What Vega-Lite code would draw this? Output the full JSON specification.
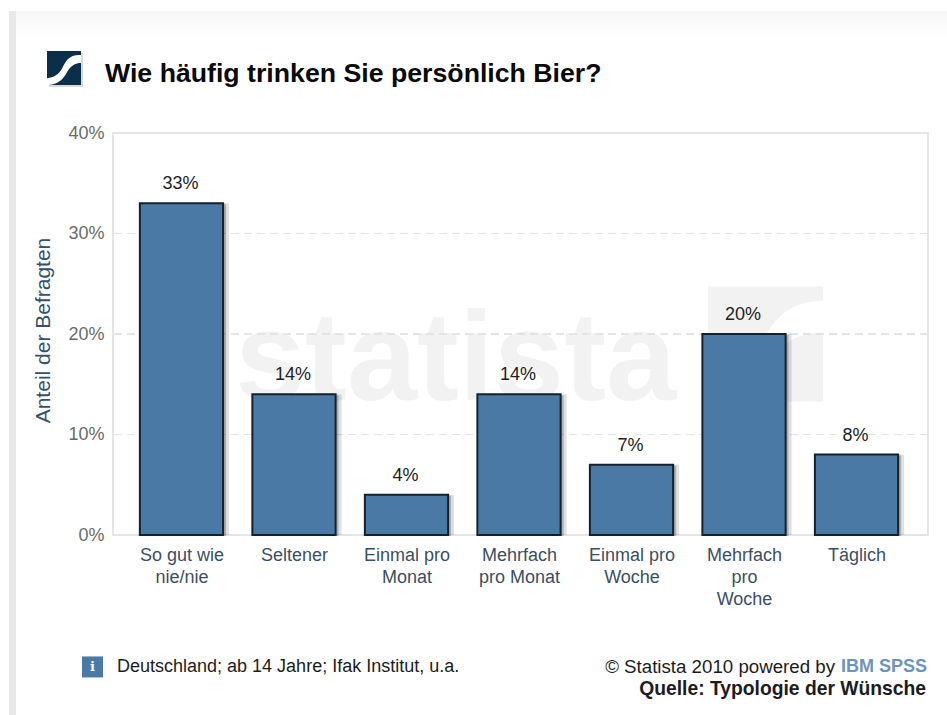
{"$schema":"https://vega.github.io/schema/vega-lite/v6.json","width":815,"height":402,"autosize":"none","padding":{"left":113,"top":133,"right":19,"bottom":180},"background":"#ffffff","view":{"stroke":"#dddddd","strokeWidth":1.5},"config":{"font":"Liberation Sans"},"title":{"text":"Wie häufig trinken Sie persönlich Bier?","anchor":"start","frame":"group","dx":-8,"offset":10,"dy":108,"baseline":"alphabetic","fontSize":26.7,"fontWeight":"bold","color":"#0a0a0a","font":"Liberation Sans"},"datasets":{"bars":[{"kategorie":"So gut wie|nie/nie","anteil":0.33},{"kategorie":"Seltener","anteil":0.14},{"kategorie":"Einmal pro|Monat","anteil":0.04},{"kategorie":"Mehrfach|pro Monat","anteil":0.14},{"kategorie":"Einmal pro|Woche","anteil":0.07},{"kategorie":"Mehrfach|pro|Woche","anteil":0.2},{"kategorie":"Täglich","anteil":0.08}],"note":[{"n":1}]},"resolve":{"scale":{"x":"independent"}},"layer":[{"data":{"name":"note"},"mark":{"type":"rect","fill":"#e8e8e8"},"encoding":{"x":{"datum":-104,"scale":{"domain":[0,815],"range":[0,815]},"axis":null},"x2":{"datum":-97},"y":{"datum":0.5214,"scale":{"domain":[0,0.4],"range":[402,0]},"axis":{"values":[0,0.1,0.2,0.3,0.4],"format":".0%","grid":false,"domain":false,"ticks":false,"labelFontSize":18,"labelColor":"#6b6b6b","labelFont":"Liberation Sans","labelPadding":9,"title":"Anteil der Befragten","titleFontSize":21,"titleFontWeight":"normal","titleColor":"#34506c","titleFont":"Liberation Sans","titlePadding":14,"titleY":197}},"y2":{"datum":-0.18}}},{"data":{"name":"note"},"mark":{"type":"rect","fill":{"gradient":"linear","x1":0,"y1":0,"x2":0,"y2":1,"stops":[{"offset":0,"color":"#f7f7f7"},{"offset":1,"color":"#ffffff"}]}},"encoding":{"x":{"datum":-97,"scale":{"domain":[0,815],"range":[0,815]},"axis":null},"x2":{"datum":834},"y":{"datum":0.5214},"y2":{"datum":0.4925}}},{"data":{"name":"note"},"mark":{"type":"text","text":"statista","font":"Liberation Sans","fontWeight":"bold","fontSize":126,"align":"left","baseline":"alphabetic","color":"#f2f2f2"},"encoding":{"x":{"datum":122,"scale":{"domain":[0,815],"range":[0,815]},"axis":null},"y":{"datum":0.134}}},{"data":{"name":"note"},"mark":{"type":"point","filled":true,"opacity":1,"color":"#f2f2f2","size":13225,"shape":"M-1,-1 H1 V-0.75 C0.3,-0.75 0.1,-0.3 -0.1,0 C-0.3,0.35 -0.6,0.5 -0.75,0.5 V1 H-1 Z M-0.3,1 C0,0.6 0.1,0.35 0.3,0.05 C0.45,-0.1 0.7,-0.2 1,-0.2 V1 Z"},"encoding":{"x":{"datum":652.5,"scale":{"domain":[0,815],"range":[0,815]},"axis":null},"y":{"datum":0.19}}},{"data":{"name":"bars"},"mark":{"type":"rule","strokeDash":[8,5],"color":"#e4e4e4","strokeWidth":1},"encoding":{"y":{"datum":0.1}}},{"data":{"name":"bars"},"mark":{"type":"rule","strokeDash":[8,5],"color":"#e4e4e4","strokeWidth":1},"encoding":{"y":{"datum":0.2}}},{"data":{"name":"bars"},"mark":{"type":"rule","strokeDash":[8,5],"color":"#e4e4e4","strokeWidth":1},"encoding":{"y":{"datum":0.3}}},{"data":{"name":"bars"},"mark":{"type":"bar","fill":"#000000","fillOpacity":0.12,"xOffset":6,"yOffset":0},"encoding":{"x":{"field":"kategorie","type":"nominal","sort":null,"scale":{"paddingInner":0.26,"paddingOuter":0.252,"range":[-1.5,813.5]},"axis":null},"y":{"field":"anteil","type":"quantitative"}}},{"data":{"name":"bars"},"mark":{"type":"bar","fill":"#000000","fillOpacity":0.22,"xOffset":3,"yOffset":1},"encoding":{"x":{"field":"kategorie","type":"nominal","sort":null,"scale":{"paddingInner":0.26,"paddingOuter":0.252,"range":[-1.5,813.5]},"axis":null},"y":{"field":"anteil","type":"quantitative"}}},{"data":{"name":"bars"},"mark":{"type":"bar","fill":"#4a79a5","stroke":"#15202b","strokeWidth":2},"encoding":{"x":{"field":"kategorie","type":"nominal","sort":null,"title":null,"scale":{"paddingInner":0.26,"paddingOuter":0.252,"range":[-1.5,813.5]},"axis":{"domain":false,"ticks":false,"labelAngle":0,"labelAlign":"center","labelBaseline":"top","labelPadding":11,"labelOffset":0.5,"labelFontSize":18,"labelColor":"#3b4f63","labelFont":"Liberation Sans","labelLineHeight":22,"labelExpr":"split(datum.label,'|')"}},"y":{"field":"anteil","type":"quantitative"}}},{"data":{"name":"bars"},"mark":{"type":"text","fontSize":18,"color":"#222222","font":"Liberation Sans","baseline":"bottom","dy":-10,"dx":-1},"encoding":{"x":{"field":"kategorie","type":"nominal","sort":null,"bandPosition":0.5,"scale":{"type":"band","paddingInner":0.26,"paddingOuter":0.252,"range":[-1.5,813.5]},"axis":null},"y":{"field":"anteil","type":"quantitative"},"text":{"field":"anteil","type":"quantitative","format":".0%"}}},{"data":{"name":"note"},"mark":{"type":"square","filled":true,"opacity":0.15,"color":"#000000","size":1156,"xOffset":2,"yOffset":2},"encoding":{"x":{"datum":-49,"scale":{"domain":[0,815],"range":[0,815]},"axis":null},"y":{"datum":0.4647}}},{"data":{"name":"note"},"mark":{"type":"square","filled":true,"opacity":1,"color":"#ffffff","size":1156},"encoding":{"x":{"datum":-49,"scale":{"domain":[0,815],"range":[0,815]},"axis":null},"y":{"datum":0.4647}}},{"data":{"name":"note"},"mark":{"type":"point","filled":true,"opacity":1,"color":"#0b2f4a","size":1156,"shape":"M-1,-1 H1 V-0.76 C0.3,-0.8 0.1,-0.4 -0.1,0 C-0.3,0.4 -0.6,0.55 -1,0.6 Z M1,-0.3 V1 H-0.9 C-0.3,0.95 0,0.6 0.2,0.2 C0.4,-0.15 0.7,-0.3 1,-0.3 Z"},"encoding":{"x":{"datum":-49,"scale":{"domain":[0,815],"range":[0,815]},"axis":null},"y":{"datum":0.4647}}},{"data":{"name":"note"},"mark":{"type":"square","filled":true,"opacity":1,"color":"#4a79a5","size":441},"encoding":{"x":{"datum":-20.5,"scale":{"domain":[0,815],"range":[0,815]},"axis":null},"y":{"datum":-0.1313}}},{"data":{"name":"note"},"mark":{"type":"text","text":"i","font":"DejaVu Serif","fontWeight":"bold","fontSize":13,"color":"#ffffff","align":"center","baseline":"middle"},"encoding":{"x":{"datum":-20.5,"scale":{"domain":[0,815],"range":[0,815]},"axis":null},"y":{"datum":-0.1313}}},{"data":{"name":"note"},"mark":{"type":"text","text":"Deutschland; ab 14 Jahre; Ifak Institut, u.a.","font":"Liberation Sans","fontSize":18,"color":"#1c1c1c","align":"left","baseline":"middle","dy":0},"encoding":{"x":{"datum":4,"scale":{"domain":[0,815],"range":[0,815]},"axis":null},"y":{"datum":-0.1313}}},{"data":{"name":"note"},"mark":{"type":"text","text":"© Statista 2010 powered by","font":"Liberation Sans","fontSize":18.7,"color":"#1c1c1c","align":"right","baseline":"middle","dy":1},"encoding":{"x":{"datum":722,"scale":{"domain":[0,815],"range":[0,815]},"axis":null},"y":{"datum":-0.1303}}},{"data":{"name":"note"},"mark":{"type":"text","text":"IBM SPSS","font":"Liberation Sans","fontWeight":"bold","fontSize":18,"color":"#6d94bd","align":"right","baseline":"middle","dy":1},"encoding":{"x":{"datum":814,"scale":{"domain":[0,815],"range":[0,815]},"axis":null},"y":{"datum":-0.1303}}},{"data":{"name":"note"},"mark":{"type":"text","text":"Quelle: Typologie der Wünsche","font":"Liberation Sans","fontWeight":"bold","fontSize":19.3,"color":"#1c1c1c","align":"right","baseline":"middle","dy":1},"encoding":{"x":{"datum":813,"scale":{"domain":[0,815],"range":[0,815]},"axis":null},"y":{"datum":-0.1523}}}]}
